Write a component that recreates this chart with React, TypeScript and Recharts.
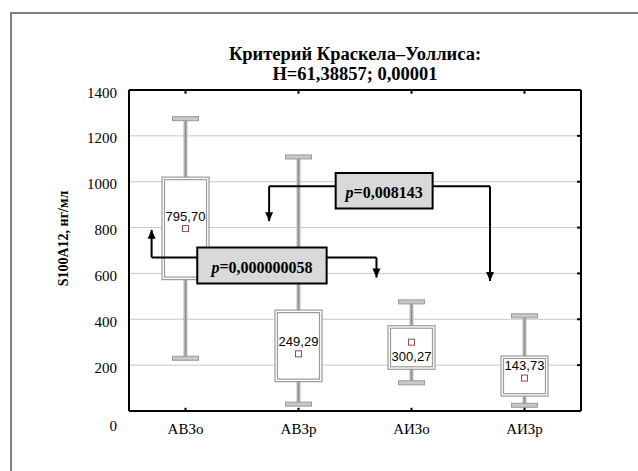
import {
  CartesianGrid,
  ComposedChart,
  Bar,
  Scatter,
  XAxis,
  YAxis,
  ReferenceLine,
  ReferenceArea,
  ReferenceDot,
} from "recharts";

const CATEGORIES = ["АВЗо", "АВЗр", "АИЗо", "АИЗр"];
const MIN = [230, 30, 123, 25];
const Q1 = [573, 128, 182, 65];
const Q3 = [1020, 440, 372, 240];
const MAX = [1275, 1108, 476, 415];
const MEAN = [795.7, 249.29, 300.27, 143.73];
const LABEL_BELOW = [false, false, true, false];

const Y_TICKS = [0, 200, 400, 600, 800, 1000, 1200, 1400];
const X_TICKS = [0.5, 1.5, 2.5, 3.5];

// pairwise comparisons (data units)
const P_VALUES = ["0,000000058", "0,008143"];
const BRACKET_LEVEL = [670, 980];
const BRACKET_LEFT = [0.2, 1.24];
const BRACKET_RIGHT = [2.19, 3.195];
const LEFT_TIP = [790, 828];
const RIGHT_TIP = [582, 567];
const BOX_X = [
  [0.604, 1.749],
  [1.829, 2.687],
];
const BOX_Y = [
  [556, 713],
  [883, 1038],
];

const rows = CATEGORIES.map((name, i) => ({
  x: i + 0.5,
  name,
  min: MIN[i],
  q1: Q1[i],
  q3: Q3[i],
  max: MAX[i],
  mean: MEAN[i],
  below: LABEL_BELOW[i],
}));

const SERIF = '"Liberation Serif", "Times New Roman", serif';
const SANS = '"Liberation Sans", Arial, sans-serif';
const GRAY = "#9a9a9a";

function BoxShape(props: any) {
  const { x, y, width, height, payload } = props;
  const cx = x + width / 2;
  const k = height / (payload.max - payload.min);
  const py = (v: number) => y + (payload.max - v) * k;
  const top = py(payload.q3);
  const bot = py(payload.q1);
  const capW = 26;
  return (
    <g>
      <line x1={cx} x2={cx} y1={y} y2={y + height} stroke="#b4b4b4" strokeWidth={4} />
      <line x1={cx} x2={cx} y1={y} y2={y + height} stroke="#8c8c8c" strokeWidth={1} />
      <rect x={cx - capW / 2} y={y - 2} width={capW} height={4} fill="#c8c8c8" stroke={GRAY} strokeWidth={1} />
      <rect x={cx - capW / 2} y={y + height - 2} width={capW} height={4} fill="#c8c8c8" stroke={GRAY} strokeWidth={1} />
      <rect x={x} y={top} width={width} height={bot - top} fill="#fff" stroke={GRAY} strokeWidth={1.2} />
      <rect x={x + 2.5} y={top + 2.5} width={width - 5} height={bot - top - 5} fill="#fff" stroke={GRAY} strokeWidth={1.2} />
    </g>
  );
}

function MeanShape(props: any) {
  const { cx, cy, payload } = props;
  const label = payload.mean.toFixed(2).replace(".", ",");
  return (
    <g>
      <rect x={cx - 3} y={cy - 3} width={6} height={6} fill="#fff" stroke="#a04848" strokeWidth={1} />
      <text
        x={cx}
        y={payload.below ? cy + 14 : cy - 12.5}
        textAnchor="middle"
        dominantBaseline="central"
        fontFamily={SANS}
        fontSize={13}
        fill="#000"
      >
        {label}
      </text>
    </g>
  );
}

function YTick(props: any) {
  const { x, y, payload } = props;
  const low = payload.value === 0;
  return (
    <text x={x} y={y + (low ? 15 : 2.5)} textAnchor="end" dominantBaseline="central" fontFamily={SERIF} fontSize={15} fill="#000">
      {payload.value}
    </text>
  );
}

function XTick(props: any) {
  const { x, y, payload } = props;
  return (
    <text x={x} y={y + 18} textAnchor="middle" dominantBaseline="central" fontFamily={SERIF} fontSize={15} fill="#000">
      {CATEGORIES[Math.floor(payload.value)]}
    </text>
  );
}

function YTitle(props: any) {
  const { viewBox } = props;
  const cx = viewBox.x + 63;
  const cy = viewBox.y + viewBox.height / 2 - 12;
  return (
    <text
      x={cx}
      y={cy}
      transform={`rotate(-90 ${cx} ${cy})`}
      textAnchor="middle"
      dominantBaseline="central"
      fontFamily={SERIF}
      fontWeight="bold"
      fontSize={14}
      fill="#000"
    >
      S100A12, нг/мл
    </text>
  );
}

function PLabel(props: any) {
  const { viewBox, text } = props;
  return (
    <text
      x={viewBox.x + viewBox.width / 2}
      y={viewBox.y + viewBox.height / 2 + 1}
      textAnchor="middle"
      dominantBaseline="central"
      fontFamily={SERIF}
      fontWeight="bold"
      fontSize={16}
      fill="#000"
    >
      <tspan fontStyle="italic">p</tspan>=<tspan>{text}</tspan>
    </text>
  );
}

function arrowHead(up: boolean) {
  return (p: any) => {
    const { cx, cy } = p;
    const d = up
      ? `M${cx},${cy} L${cx - 4},${cy + 9} L${cx + 4},${cy + 9} Z`
      : `M${cx},${cy} L${cx - 4},${cy - 9} L${cx + 4},${cy - 9} Z`;
    return <path d={d} fill="#000" />;
  };
}

function seg(key: string, x1: number, y1: number, x2: number, y2: number) {
  return (
    <ReferenceLine
      key={key}
      segment={[
        { x: x1, y: y1 },
        { x: x2, y: y2 },
      ]}
      stroke="#000"
      strokeWidth={2}
      ifOverflow="visible"
    />
  );
}

export default function App() {
  return (
    <div style={{ position: "relative", width: 638, height: 471, overflow: "hidden", background: "#fff" }}>
      <style>{`body{margin:0}`}</style>
      <div
        style={{
          position: "absolute",
          left: 10,
          top: 12,
          width: 640,
          height: 470,
          borderLeft: "2px solid #808080",
          borderTop: "2px solid #808080",
        }}
      />
      <div style={{ position: "absolute", left: 0, top: 0 }}>
        <ComposedChart width={638} height={471} data={rows} margin={{ top: 90, right: 57, bottom: 0, left: 0 }}>
          <CartesianGrid horizontal vertical={false} stroke="#c8c8c8" strokeWidth={1} />
          <XAxis
            dataKey="x"
            type="number"
            domain={[0, 4]}
            ticks={X_TICKS}
            height={60}
            tickSize={0}
            tickMargin={0}
            tickLine={false}
            axisLine={{ stroke: "#000", strokeWidth: 2 }}
            tick={<XTick />}
            interval={0}
          />
          <YAxis
            type="number"
            domain={[0, 1400]}
            ticks={Y_TICKS}
            width={129}
            tickSize={0}
            tickMargin={12}
            tickLine={false}
            axisLine={{ stroke: "#000", strokeWidth: 2 }}
            tick={<YTick />}
            interval={0}
            label={<YTitle />}
          />
          <Bar dataKey={(d: any) => [d.min, d.max]} barSize={47} shape={<BoxShape />} isAnimationActive={false} />
          <Scatter dataKey="mean" shape={<MeanShape />} isAnimationActive={false} />

          <ReferenceLine y={1400} stroke="#000" strokeWidth={2} ifOverflow="visible" />
          <ReferenceLine x={4} stroke="#000" strokeWidth={2} ifOverflow="visible" />
          {X_TICKS.map((t) => seg(`tt${t}`, t, 1400, t, 1384))}
          {X_TICKS.map((t) => seg(`bt${t}`, t, 0, t, 14))}
          {Y_TICKS.slice(1, -1).map((t) => seg(`rt${t}`, 4, t, 3.965, t))}

          {P_VALUES.map((p, i) => seg(`lv${i}`, BRACKET_LEFT[i], LEFT_TIP[i], BRACKET_LEFT[i], BRACKET_LEVEL[i]))}
          {P_VALUES.map((p, i) => seg(`lh${i}`, BRACKET_LEFT[i], BRACKET_LEVEL[i], BOX_X[i][0], BRACKET_LEVEL[i]))}
          {P_VALUES.map((p, i) => seg(`rh${i}`, BOX_X[i][1], BRACKET_LEVEL[i], BRACKET_RIGHT[i], BRACKET_LEVEL[i]))}
          {P_VALUES.map((p, i) => seg(`rv${i}`, BRACKET_RIGHT[i], BRACKET_LEVEL[i], BRACKET_RIGHT[i], RIGHT_TIP[i]))}
          {P_VALUES.map((p, i) => (
            <ReferenceDot
              key={`la${i}`}
              x={BRACKET_LEFT[i]}
              y={LEFT_TIP[i]}
              ifOverflow="visible"
              shape={arrowHead(LEFT_TIP[i] > BRACKET_LEVEL[i])}
            />
          ))}
          {P_VALUES.map((p, i) => (
            <ReferenceDot
              key={`ra${i}`}
              x={BRACKET_RIGHT[i]}
              y={RIGHT_TIP[i]}
              ifOverflow="visible"
              shape={arrowHead(RIGHT_TIP[i] > BRACKET_LEVEL[i])}
            />
          ))}
          {P_VALUES.map((p, i) => (
            <ReferenceArea
              key={`b${i}`}
              x1={BOX_X[i][0]}
              x2={BOX_X[i][1]}
              y1={BOX_Y[i][0]}
              y2={BOX_Y[i][1]}
              fill="#d9d9d9"
              fillOpacity={1}
              stroke="#000"
              strokeWidth={2}
              zIndex={1500}
              ifOverflow="visible"
              label={<PLabel text={p} />}
            />
          ))}
        </ComposedChart>
      </div>
      <div
        style={{
          position: "absolute",
          left: 155,
          top: 44,
          width: 400,
          textAlign: "center",
          fontFamily: SERIF,
          fontWeight: "bold",
          fontSize: 18.5,
          lineHeight: "20px",
          color: "#000",
        }}
      >
        <div>Критерий Краскела–Уоллиса:</div>
        <div>H=61,38857; 0,00001</div>
      </div>
    </div>
  );
}
